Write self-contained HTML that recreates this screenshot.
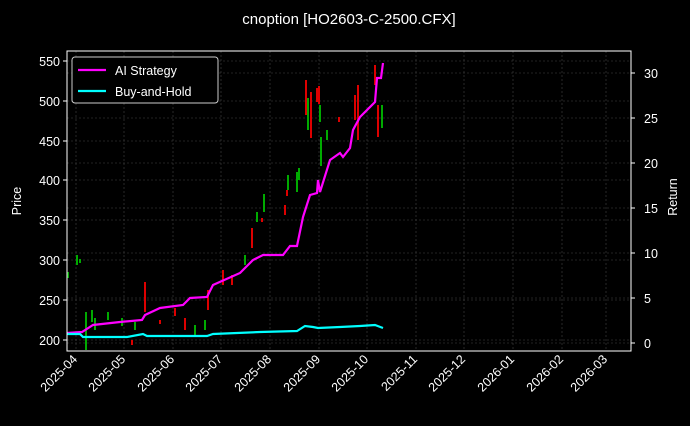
<!DOCTYPE html>
<html><head><style>
body{margin:0;background:#000;}
svg text{font-family:"Liberation Sans",sans-serif;fill:#fff;}
</style></head><body>
<svg width="690" height="421" xmlns="http://www.w3.org/2000/svg">
<rect width="690" height="421" fill="#000"/>
<text x="349" y="24" font-size="15" text-anchor="middle">cnoption [HO2603-C-2500.CFX]</text>
<g stroke="#444" stroke-width="0.6" stroke-dasharray="2,2">
<line x1="67" x2="631" y1="61" y2="61"/><line x1="67" x2="631" y1="101" y2="101"/><line x1="67" x2="631" y1="141" y2="141"/><line x1="67" x2="631" y1="180" y2="180"/><line x1="67" x2="631" y1="220" y2="220"/><line x1="67" x2="631" y1="260" y2="260"/><line x1="67" x2="631" y1="300" y2="300"/><line x1="67" x2="631" y1="340" y2="340"/>
<line x1="67" x2="631" y1="73" y2="73"/><line x1="67" x2="631" y1="118" y2="118"/><line x1="67" x2="631" y1="163" y2="163"/><line x1="67" x2="631" y1="208" y2="208"/><line x1="67" x2="631" y1="253" y2="253"/><line x1="67" x2="631" y1="298" y2="298"/><line x1="67" x2="631" y1="343" y2="343"/>
<line y1="51" y2="351" x1="76" x2="76"/><line y1="51" y2="351" x1="124" x2="124"/><line y1="51" y2="351" x1="173" x2="173"/><line y1="51" y2="351" x1="221" x2="221"/><line y1="51" y2="351" x1="270" x2="270"/><line y1="51" y2="351" x1="319" x2="319"/><line y1="51" y2="351" x1="367" x2="367"/><line y1="51" y2="351" x1="416" x2="416"/><line y1="51" y2="351" x1="464" x2="464"/><line y1="51" y2="351" x1="513" x2="513"/><line y1="51" y2="351" x1="562" x2="562"/><line y1="51" y2="351" x1="606" x2="606"/>
</g>
<g stroke-width="2">
<line x1="68" x2="68" y1="272" y2="278" stroke="#0a0"/><line x1="77" x2="77" y1="255" y2="265" stroke="#0a0"/><line x1="80" x2="80" y1="259" y2="263" stroke="#0a0"/>
<line x1="86" x2="86" y1="312" y2="350" stroke="#0a0"/><line x1="92" x2="92" y1="310" y2="322" stroke="#0a0"/><line x1="95" x2="95" y1="318" y2="330" stroke="#0a0"/>
<line x1="108" x2="108" y1="312" y2="320" stroke="#0a0"/><line x1="122" x2="122" y1="318" y2="326" stroke="#0a0"/><line x1="135" x2="135" y1="322" y2="330" stroke="#0a0"/>
<line x1="132" x2="132" y1="340" y2="345" stroke="#d00"/><line x1="145" x2="145" y1="282" y2="312" stroke="#d00"/><line x1="160" x2="160" y1="320" y2="324" stroke="#d00"/>
<line x1="175" x2="175" y1="308" y2="316" stroke="#d00"/><line x1="185" x2="185" y1="318" y2="330" stroke="#d00"/><line x1="195" x2="195" y1="325" y2="335" stroke="#0a0"/>
<line x1="205" x2="205" y1="320" y2="330" stroke="#0a0"/><line x1="208" x2="208" y1="290" y2="310" stroke="#d00"/><line x1="223" x2="223" y1="270" y2="285" stroke="#d00"/>
<line x1="232" x2="232" y1="275" y2="285" stroke="#d00"/><line x1="245" x2="245" y1="255" y2="265" stroke="#0a0"/><line x1="252" x2="252" y1="228" y2="248" stroke="#d00"/>
<line x1="257" x2="257" y1="212" y2="222" stroke="#0a0"/><line x1="264" x2="264" y1="194" y2="212" stroke="#0a0"/><line x1="262" x2="262" y1="218" y2="222" stroke="#d00"/>
<line x1="285" x2="285" y1="205" y2="215" stroke="#d00"/><line x1="287" x2="287" y1="190" y2="196" stroke="#d00"/><line x1="288" x2="288" y1="175" y2="190" stroke="#0a0"/>
<line x1="297" x2="297" y1="172" y2="192" stroke="#0a0"/><line x1="299" x2="299" y1="168" y2="180" stroke="#0a0"/><line x1="306" x2="306" y1="80" y2="115" stroke="#d00"/>
<line x1="308" x2="308" y1="98" y2="130" stroke="#0a0"/><line x1="311" x2="311" y1="92" y2="138" stroke="#d00"/><line x1="317" x2="317" y1="88" y2="102" stroke="#d00"/>
<line x1="319" x2="319" y1="86" y2="104" stroke="#d00"/><line x1="320" x2="320" y1="105" y2="122" stroke="#0a0"/><line x1="321" x2="321" y1="137" y2="166" stroke="#0a0"/>
<line x1="327" x2="327" y1="130" y2="140" stroke="#0a0"/><line x1="339" x2="339" y1="117" y2="122" stroke="#d00"/><line x1="355" x2="355" y1="95" y2="120" stroke="#d00"/>
<line x1="358" x2="358" y1="85" y2="140" stroke="#d00"/><line x1="375" x2="375" y1="65" y2="85" stroke="#d00"/><line x1="378" x2="378" y1="105" y2="137" stroke="#d00"/>
<line x1="382" x2="382" y1="105" y2="128" stroke="#0a0"/>
</g>
<polyline fill="none" stroke="#f0f" stroke-width="2.2" points="67,333 82,332 93,325 120,322 142,320 145,315 160,308 183,305 190,298 207,297 213,285 240,273 253,260 263,255 283,255 290,246 297,246 303,217 310,195 317,193 318,180 320,192 330,160 340,153 343,157 350,148 353,130 360,117 375,102 377,78 381,78 383,63"/>
<polyline fill="none" stroke="#0ff" stroke-width="2.2" points="67,334 80,334 83,337 127,337 143,334 147,336 207,336 213,334 260,332 297,331 305,326 313,327 318,328 340,327 360,326 375,325 383,328"/>
<rect x="67" y="51" width="564" height="300" fill="none" stroke="#fff" stroke-width="1"/>
<g stroke="#fff" stroke-width="1">
<line x1="63" x2="67" y1="61" y2="61"/><line x1="63" x2="67" y1="101" y2="101"/><line x1="63" x2="67" y1="141" y2="141"/><line x1="63" x2="67" y1="180" y2="180"/><line x1="63" x2="67" y1="220" y2="220"/><line x1="63" x2="67" y1="260" y2="260"/><line x1="63" x2="67" y1="300" y2="300"/><line x1="63" x2="67" y1="340" y2="340"/>
<line x1="631" x2="635" y1="73" y2="73"/><line x1="631" x2="635" y1="118" y2="118"/><line x1="631" x2="635" y1="163" y2="163"/><line x1="631" x2="635" y1="208" y2="208"/><line x1="631" x2="635" y1="253" y2="253"/><line x1="631" x2="635" y1="298" y2="298"/><line x1="631" x2="635" y1="343" y2="343"/>
</g>
<g font-size="12.5" text-anchor="end">
<text x="60" y="66">550</text><text x="60" y="106">500</text><text x="60" y="146">450</text><text x="60" y="185">400</text><text x="60" y="225">350</text><text x="60" y="265">300</text><text x="60" y="305">250</text><text x="60" y="345">200</text>
</g>
<g font-size="12.5">
<text x="644" y="78">30</text><text x="644" y="123">25</text><text x="644" y="168">20</text><text x="644" y="213">15</text><text x="644" y="258">10</text><text x="644" y="303">5</text><text x="644" y="348">0</text>
</g>
<text font-size="12.5" transform="translate(21,201) rotate(-90)" text-anchor="middle">Price</text>
<text font-size="12.5" transform="translate(677,197) rotate(-90)" text-anchor="middle">Return</text>
<g font-size="12.5" text-anchor="end">
<text transform="translate(78,360) rotate(-45)">2025-04</text><text transform="translate(126,360) rotate(-45)">2025-05</text><text transform="translate(175,360) rotate(-45)">2025-06</text><text transform="translate(223,360) rotate(-45)">2025-07</text><text transform="translate(272,360) rotate(-45)">2025-08</text><text transform="translate(321,360) rotate(-45)">2025-09</text><text transform="translate(369,360) rotate(-45)">2025-10</text><text transform="translate(418,360) rotate(-45)">2025-11</text><text transform="translate(466,360) rotate(-45)">2025-12</text><text transform="translate(515,360) rotate(-45)">2026-01</text><text transform="translate(564,360) rotate(-45)">2026-02</text><text transform="translate(608,360) rotate(-45)">2026-03</text>
</g>
<rect x="72" y="57" width="146" height="46" rx="3" fill="#000" stroke="#ccc" stroke-width="1"/>
<line x1="78" x2="106" y1="70" y2="70" stroke="#f0f" stroke-width="2.2"/>
<text x="115" y="75" font-size="12.5">AI Strategy</text>
<line x1="78" x2="106" y1="91" y2="91" stroke="#0ff" stroke-width="2.2"/>
<text x="115" y="96" font-size="12.5">Buy-and-Hold</text>
</svg>
</body></html>
